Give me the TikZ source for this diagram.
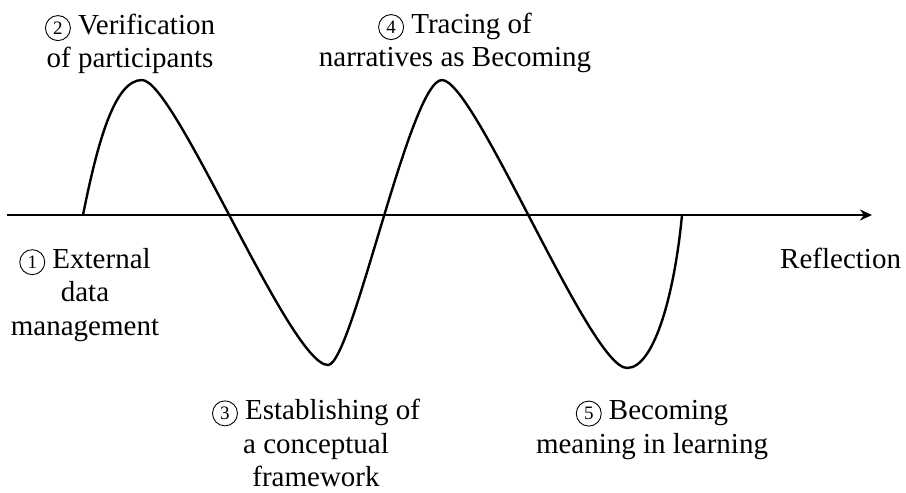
\documentclass[tikz,border=0pt]{standalone}
\usepackage{fontspec}
\setmainfont{Liberation Serif}
\usetikzlibrary{arrows.meta}
\newcommand{\cnum}[1]{\tikz[baseline=(d.base)]\node[draw,circle,line width=0.9pt,inner sep=0pt,minimum size=25pt,font=\fontsize{19}{19}\selectfont] (d) {#1};}

\begin{document}
\begin{tikzpicture}[x=1pt,y=-1pt,
	stagetext/.style={align=center,inner sep=0pt,font=\fontsize{29}{33.5}\selectfont}]
	\useasboundingbox (0,0) rectangle (906,493);
	
	% axis
	\coordinate (origin) at (7,215);
	\coordinate (tip) at (872,215);
	\draw[line width=2.6pt,-{Stealth[length=12pt,width=11pt]}] (origin) -- (tip);
	
	% wave
	\draw[line width=2.4pt] (83,215) .. controls (98,140) and (115,80) .. (142,80)
	.. controls (175,80) and (290,365) .. (328,365)
	.. controls (352,365) and (410,80) .. (442,80)
	.. controls (475,80) and (590,368) .. (627,368)
	.. controls (655,368) and (675,290) .. (682,215);
	
	\node[stagetext] (external) at (85,295) {\cnum{1} External\\data\\management};
	\node[stagetext] (verify) at (130,44) {\cnum{2} Verification\\of participants};
	\node[stagetext] (framework) at (316,443) {\cnum{3} Establishing of\\a conceptual\\framework};
	\node[stagetext] (tracing) at (455,43) {\cnum{4} Tracing of\\narratives as Becoming};
	\node[stagetext] (becoming) at (652,430) {\cnum{5} Becoming\\meaning in learning};
	\node[stagetext,anchor=base west] (reflect) at (780,268) {Reflection};
\end{tikzpicture}
\end{document}
